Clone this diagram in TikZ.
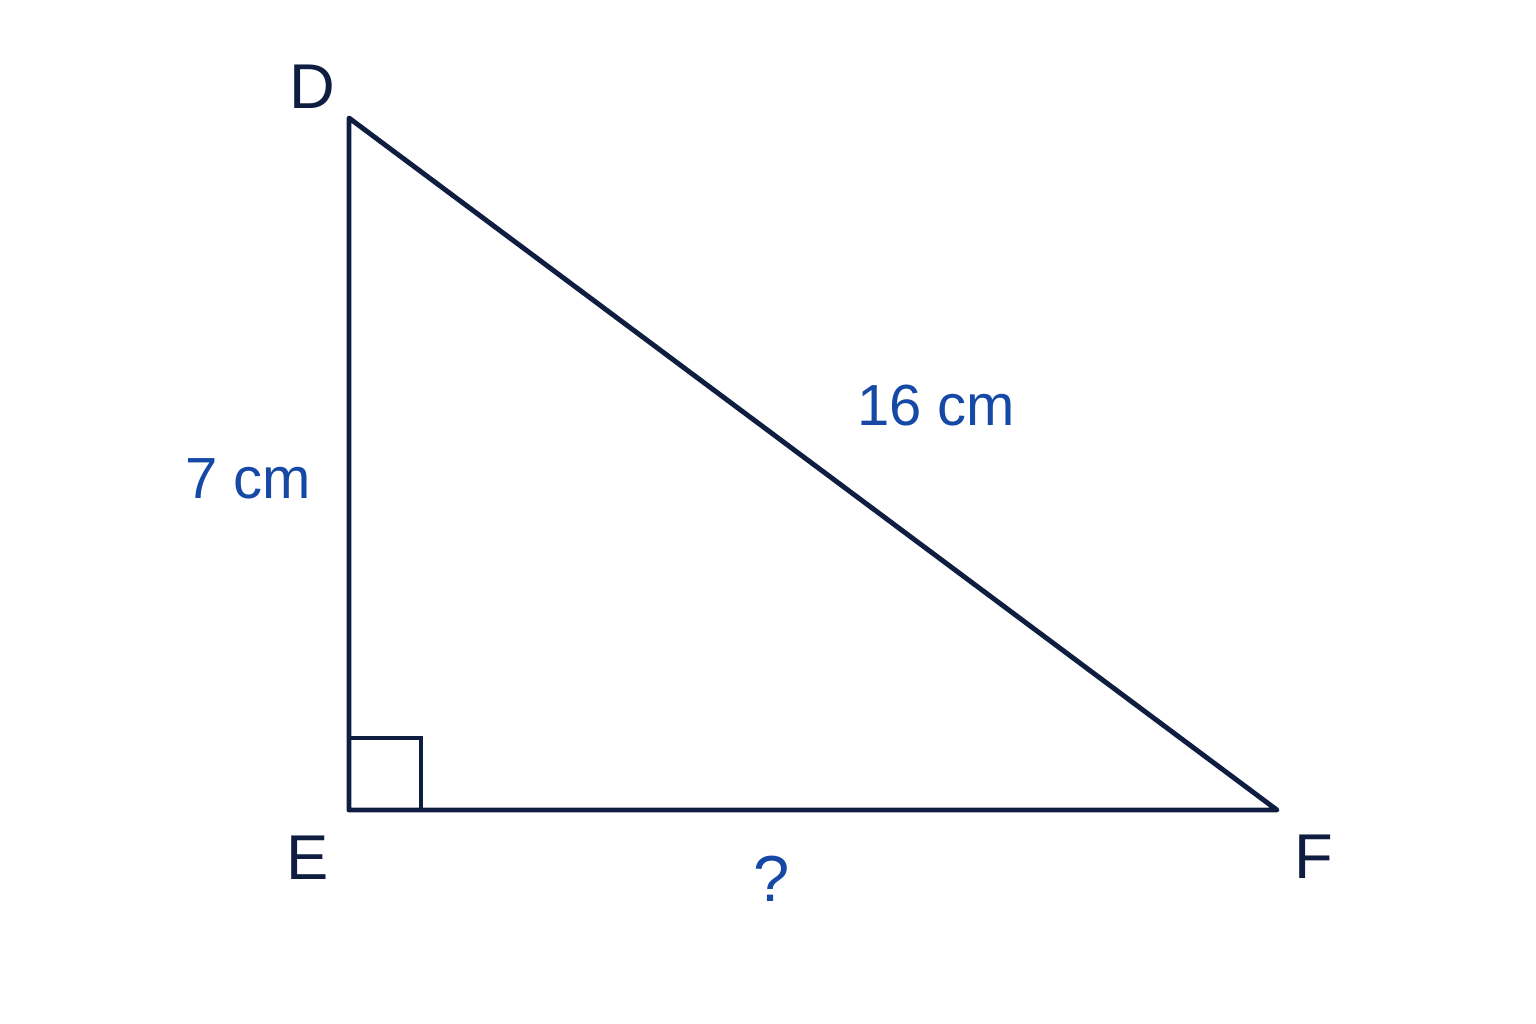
\documentclass[tikz,border=0pt]{standalone}
\usepackage{fontspec}
\setmainfont{Liberation Sans}
\definecolor{navy}{HTML}{0F1E40}
\definecolor{meas}{HTML}{1649A6}
\begin{document}
\begin{tikzpicture}[x=0.01cm,y=-0.01cm,
  edge/.style={draw=navy,line width=1.4pt,line join=round,line cap=round},
  vlabel/.style={text=navy,font=\fontsize{18}{20}\selectfont,inner sep=0pt},
  mlabel/.style={text=meas,font=\fontsize{16.5}{19}\selectfont,inner sep=0pt}]
\useasboundingbox (0,0) rectangle (1536,1024);
\coordinate (D) at (349,118);
\coordinate (E) at (349,810);
\coordinate (F) at (1277,810);
\draw[edge] (D) -- (E) -- (F) -- cycle;
\draw[draw=navy,line width=1.2pt] (349,738) -- (421,738) -- (421,810);
\node[vlabel] (lD) at (312,87) {D};
\node[vlabel] (lE) at (308,858) {E};
\node[vlabel] (lF) at (1314,857) {F};
\node[mlabel] (lDF) at (936,406) {16 cm};
\node[mlabel] (lDE) at (248,479) {7 cm};
\node[mlabel,font=\fontsize{18.5}{20}\selectfont] (lEF) at (772,879) {?};
\end{tikzpicture}
\end{document}
